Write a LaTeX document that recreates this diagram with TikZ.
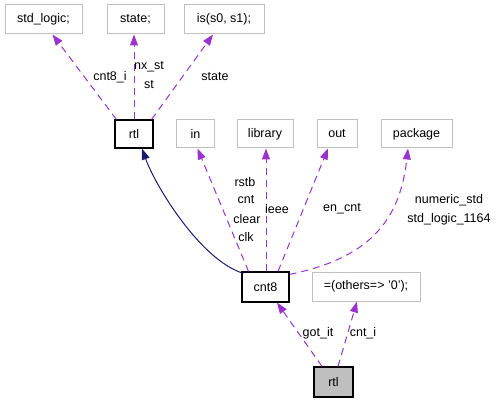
\documentclass[tikz,border=0pt]{standalone}
\usepackage{fontspec}
\setmainfont{Liberation Sans}
\usetikzlibrary{arrows.meta}
\definecolor{orchid}{HTML}{9A32CD}
\definecolor{navy}{HTML}{191970}
\definecolor{boxgray}{HTML}{BFBFBF}
\begin{document}
\begin{tikzpicture}[x=1pt,y=-1pt,
  every node/.style={font=\fontsize{12.5}{14}\selectfont, inner sep=0pt},
  extbox/.style={draw=boxgray, line width=1pt, minimum height=29pt},
  mainbox/.style={draw=black, line width=1.2pt, minimum height=29pt},
  use/.style={draw=orchid, line width=1pt, dash pattern=on 7pt off 5pt,
     -{Triangle[length=11pt,width=8pt,fill=orchid]}},
  inherit/.style={draw=navy, line width=1pt, -{Triangle[length=11pt,width=8pt,fill=navy]}},
  lbl/.style={text=black}]
\useasboundingbox (0,0) rectangle (497,403);
% nodes
\node[extbox, minimum width=77pt] (n1) at (43.5,19.5) {std\_logic;};
\node[extbox, minimum width=57pt] (n2) at (135.5,19.5) {state;};
\node[extbox, minimum width=80pt] (n3) at (224,19.5) {is(s0, s1);};
\node[mainbox, minimum width=38pt, minimum height=28pt] (rtl) at (134,134) {rtl};
\node[extbox, minimum width=38pt, minimum height=28pt] (in) at (195.5,134) {in};
\node[extbox, minimum width=56pt, minimum height=28pt] (lib) at (265,134) {library};
\node[extbox, minimum width=40pt, minimum height=28pt] (out) at (337,134) {out};
\node[extbox, minimum width=71pt, minimum height=28pt] (pkg) at (416.5,134) {package};
\node[mainbox, minimum width=47pt, minimum height=30pt] (cnt8) at (265.5,287) {cnt8};
\node[extbox, minimum width=108pt] (oth) at (366,286.5) {=(others=> '0');};
\node[mainbox, fill=boxgray, minimum width=39pt, minimum height=30pt] (rtlb) at (333.5,382) {rtl};
% edges
\draw[use] ([xshift=2pt]rtl.north west) -- ([xshift=9pt]n1.south);
\draw[use] (rtl.north) -- (rtl.north |- n2.south);
\draw[use] ([xshift=-2pt]rtl.north east) -- ([xshift=-11pt]n3.south);
\draw[inherit] ([xshift=2pt,yshift=-2pt]cnt8.north west) .. controls (200,260) and (155,185) .. ([xshift=8pt]rtl.south);
\draw[use] ([xshift=-17pt]cnt8.north) -- ([xshift=2pt]in.south);
\draw[use] ([xshift=0.5pt]cnt8.north) -- ([xshift=0.5pt]cnt8.north |- lib.south);
\draw[use] ([xshift=12.5pt]cnt8.north) -- ([xshift=-9pt]out.south);
\draw[use] ([yshift=-3pt]cnt8.north east) .. controls (370,258) and (400,220) .. ([xshift=-8.5pt]pkg.south);
\draw[use] ([xshift=-11.5pt]rtlb.north) -- ([xshift=11.5pt]cnt8.south);
\draw[use] ([xshift=4.5pt]rtlb.north) -- ([xshift=-9pt]oth.south);
% labels
\node[lbl] (l1) at (110,77) {cnt8\_i};
\node[lbl] (l2) at (149,67) {nx\_st};
\node[lbl] (l3) at (149,85) {st};
\node[lbl] (l4) at (215,77) {state};
\node[lbl] (l5) at (245,182) {rstb};
\node[lbl] (l6) at (246,200) {cnt};
\node[lbl] (l7) at (247,219) {clear};
\node[lbl] (l8) at (246,237) {clk};
\node[lbl] (l9) at (277,209) {ieee};
\node[lbl] (l10) at (342,209) {en\_cnt};
\node[lbl] (l11) at (449,200) {numeric\_std};
\node[lbl] (l12) at (449,219) {std\_logic\_1164};
\node[lbl] (l13) at (318,333) {got\_it};
\node[lbl] (l14) at (363,333) {cnt\_i};
\end{tikzpicture}
\end{document}
